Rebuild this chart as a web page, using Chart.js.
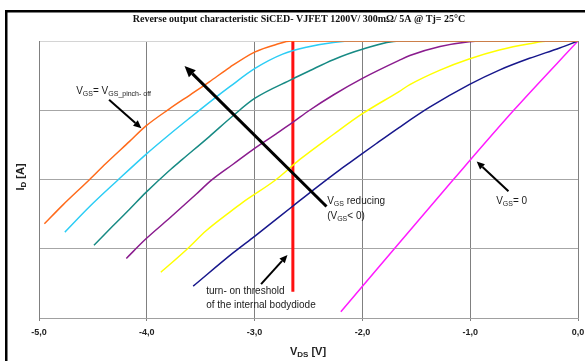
<!DOCTYPE html>
<html>
<head>
<meta charset="utf-8">
<script src="https://cdn.jsdelivr.net/npm/chart.js@4/dist/chart.umd.min.js"></script>
<style>
  html, body { margin: 0; padding: 0; background: #fff; }
  #wrap { width: 585px; height: 361px; position: relative; }
</style>
</head>
<body>
<div id="wrap"><canvas id="jfet-chart" width="585" height="361"></canvas></div>
<script>
// V_DS [V] / I_D (arbitrary units, 0 at top)
const xTicks = [-5, -4, -3, -2, -1, 0];

const curvePinchOff = [[-4.95,-2.64],[-4.78,-2.37],[-4.53,-2.00],[-4.38,-1.77],[-4.16,-1.45],[-4.01,-1.23],
  [-3.79,-0.98],[-3.60,-0.78],[-3.42,-0.59],[-3.23,-0.38],[-3.00,-0.16],[-2.80,-0.05],[-2.66,0],[0,0]];
const curveCyan = [[-4.76,-2.76],[-4.53,-2.39],[-4.27,-2.01],[-4.01,-1.64],[-3.79,-1.35],[-3.60,-1.11],
  [-3.39,-0.85],[-3.23,-0.66],[-3.00,-0.40],[-2.74,-0.19],[-2.52,-0.09],[-2.27,-0.02],[-2.06,0],[0,0]];
const curveTeal = [[-4.49,-2.95],[-4.32,-2.68],[-4.16,-2.43],[-4.01,-2.19],[-3.79,-1.87],[-3.67,-1.71],
  [-3.42,-1.38],[-3.20,-1.08],[-3.00,-0.83],[-2.65,-0.55],[-2.49,-0.43],[-2.27,-0.27],[-2.00,-0.12],[-1.66,0],[0,0]];
const curvePurple = [[-4.19,-3.14],[-4.01,-2.86],[-3.79,-2.56],[-3.54,-2.21],[-3.40,-2.01],[-3.20,-1.78],
  [-3.00,-1.55],[-2.80,-1.34],[-2.65,-1.18],[-2.49,-1.00],[-2.27,-0.78],[-2.00,-0.54],[-1.66,-0.28],
  [-1.56,-0.21],[-1.28,-0.08],[-1.01,-0.01],[-0.90,0],[0,0]];
const curveYellow = [[-3.87,-3.34],[-3.63,-3.01],[-3.45,-2.74],[-3.23,-2.47],[-3.11,-2.33],[-2.80,-2.00],
  [-2.58,-1.71],[-2.27,-1.35],[-2.00,-1.05],[-1.66,-0.73],[-1.56,-0.63],[-1.28,-0.42],[-1.01,-0.26],
  [-0.73,-0.13],[-0.45,-0.04],[-0.27,0],[0,0]];
const curveNavy = [[-3.57,-3.54],[-3.20,-3.06],[-3.00,-2.82],[-2.65,-2.39],[-2.43,-2.12],[-2.21,-1.86],
  [-2.12,-1.76],[-1.87,-1.48],[-1.66,-1.25],[-1.38,-0.96],[-1.01,-0.63],[-0.73,-0.42],[-0.45,-0.25],
  [-0.17,-0.10],[0,0]];
const curveVgsZero = [[-2.20,-3.91],[-1.84,-3.25],[-1.15,-1.99],[-0.59,-0.99],[0,0]];
const turnOnThreshold = [[-2.645,0],[-2.645,-3.62]];

const seriesColors = ['#ff6a1a', '#2ccdf5', '#178a84', '#8a1c8e', '#ffff00', '#17178c', '#ff1aff'];
const seriesCurves = [curvePinchOff, curveCyan, curveTeal, curvePurple, curveYellow, curveNavy, curveVgsZero];

// annotations, in data units
const arrows = [
  { from: [-2.333, -2.39], to: [-3.65, -0.36], w: 3, head: 11 },
  { from: [-4.35, -0.85], to: [-4.05, -1.26], w: 2, head: 8 },
  { from: [-0.645, -2.17], to: [-0.94, -1.74], w: 2, head: 8 },
  { from: [-2.94, -3.51], to: [-2.695, -3.09], w: 2, head: 8 }
];
const labels = [
  { at: [-4.655, -0.77], parts: [['V'], ['GS', 1], ['= V'], ['GS_pinch- off', 1]] },
  { at: [-2.327, -2.35], parts: [['V'], ['GS', 1], [' reducing']] },
  { at: [-2.327, -2.565], parts: [['(V'], ['GS', 1], ['< 0)']] },
  { at: [-3.449, -3.66], parts: [['turn- on threshold']] },
  { at: [-3.449, -3.86], parts: [['of the internal bodydiode']] },
  { at: [-0.759, -2.35], parts: [['V'], ['GS', 1], ['= 0']] }
];

function richText(ctx, parts, x, y, size, weight, align) {
  const big = weight + ' ' + size + 'px "Liberation Sans", Arial, sans-serif';
  const small = weight + ' ' + Math.round(size * 0.7) + 'px "Liberation Sans", Arial, sans-serif';
  let total = 0;
  parts.forEach(p => { ctx.font = p[1] ? small : big; total += ctx.measureText(p[0]).width; });
  let cx = align === 'center' ? x - total / 2 : x;
  ctx.textAlign = 'left';
  ctx.textBaseline = 'alphabetic';
  parts.forEach(p => {
    ctx.font = p[1] ? small : big;
    ctx.fillText(p[0], cx, y + (p[1] ? 2 : 0));
    cx += ctx.measureText(p[0]).width;
  });
}

const extras = {
  id: 'extras',
  beforeDraw(chart) {
    const ctx = chart.ctx;
    ctx.save();
    ctx.fillStyle = '#000';
    ctx.fillRect(5, 10, 590, 2.5);
    ctx.fillRect(5, 10, 2.5, 360);
    ctx.restore();
  },
  afterDraw(chart) {
    const ctx = chart.ctx, xs = chart.scales.x, ys = chart.scales.y;
    const px = v => xs.getPixelForValue(v), py = v => ys.getPixelForValue(v);
    ctx.save();
    ctx.fillStyle = '#111';
    ctx.font = 'bold 10px "Liberation Serif", "Times New Roman", serif';
    ctx.textAlign = 'center';
    ctx.textBaseline = 'middle';
    ctx.fillText('Reverse output characteristic SiCED- VJFET 1200V/ 300m\u03A9/ 5A @ Tj= 25\u00B0C', 299, 19);

    // axis titles
    ctx.fillStyle = '#222';
    richText(ctx, [['V'], ['DS', 1], [' [V]']], 308, 355, 11, 'bold', 'center');
    ctx.save();
    ctx.translate(24, 177);
    ctx.rotate(-Math.PI / 2);
    richText(ctx, [['I'], ['D', 1], [' [A]']], 0, 0, 11, 'bold', 'center');
    ctx.restore();

    // arrows
    ctx.strokeStyle = '#000';
    ctx.fillStyle = '#000';
    arrows.forEach(a => {
      const x1 = px(a.from[0]), y1 = py(a.from[1]), x2 = px(a.to[0]), y2 = py(a.to[1]);
      const ang = Math.atan2(y2 - y1, x2 - x1);
      const bx = x2 - Math.cos(ang) * a.head, by = y2 - Math.sin(ang) * a.head;
      ctx.lineWidth = a.w;
      ctx.beginPath(); ctx.moveTo(x1, y1); ctx.lineTo(bx, by); ctx.stroke();
      const hw = a.head * 0.45;
      ctx.beginPath();
      ctx.moveTo(x2, y2);
      ctx.lineTo(bx + Math.sin(ang) * hw, by - Math.cos(ang) * hw);
      ctx.lineTo(bx - Math.sin(ang) * hw, by + Math.cos(ang) * hw);
      ctx.closePath(); ctx.fill();
    });

    ctx.fillStyle = '#1a1a1a';
    labels.forEach(l => richText(ctx, l.parts, px(l.at[0]), py(l.at[1]), 10, 'normal', 'left'));
    ctx.restore();
  }
};

const datasets = seriesCurves.map((c, i) => ({
  data: c.map(p => ({ x: p[0], y: p[1] })),
  borderColor: seriesColors[i],
  borderWidth: 1.5,
  pointRadius: 0,
  cubicInterpolationMode: 'monotone',
  clip: 0
}));
datasets.push({
  data: turnOnThreshold.map(p => ({ x: p[0], y: p[1] })),
  borderColor: '#ff1010',
  borderWidth: 3,
  pointRadius: 0,
  clip: 0
});

new Chart(document.getElementById('jfet-chart').getContext('2d'), {
  type: 'line',
  data: { datasets: datasets },
  options: {
    responsive: false,
    animation: false,
    events: [],
    layout: { padding: { top: 41, right: 7, left: 0, bottom: 0 } },
    plugins: { legend: { display: false }, title: { display: false }, tooltip: { enabled: false } },
    scales: {
      x: {
        type: 'linear',
        min: -5, max: 0,
        afterBuildTicks: s => { s.ticks = xTicks.map(v => ({ value: v })); },
        afterFit: s => { s.height = 43; s.paddingLeft = 0; s.paddingRight = 0; },
        grid: { color: '#808080', lineWidth: 1, tickLength: 3, tickColor: '#808080' },
        border: { color: '#a0a0a0', width: 1 },
        ticks: {
          padding: 6,
          color: '#222',
          maxRotation: 0,
          font: { family: '"Liberation Sans", Arial, sans-serif', size: 9, weight: 'bold' },
          callback: v => v.toFixed(1).replace('.', ',')
        }
      },
      y: {
        min: -4, max: 0,
        ticks: { display: false, stepSize: 1 },
        afterFit: s => { s.width = 39; },
        grid: {
          color: c => (c.tick && c.tick.value === 0) ? '#d4d4d4' : '#a6a6a6',
          lineWidth: 1,
          drawTicks: false
        },
        border: { color: '#808080', width: 1 }
      }
    }
  },
  plugins: [extras]
});
</script>
</body>
</html>
